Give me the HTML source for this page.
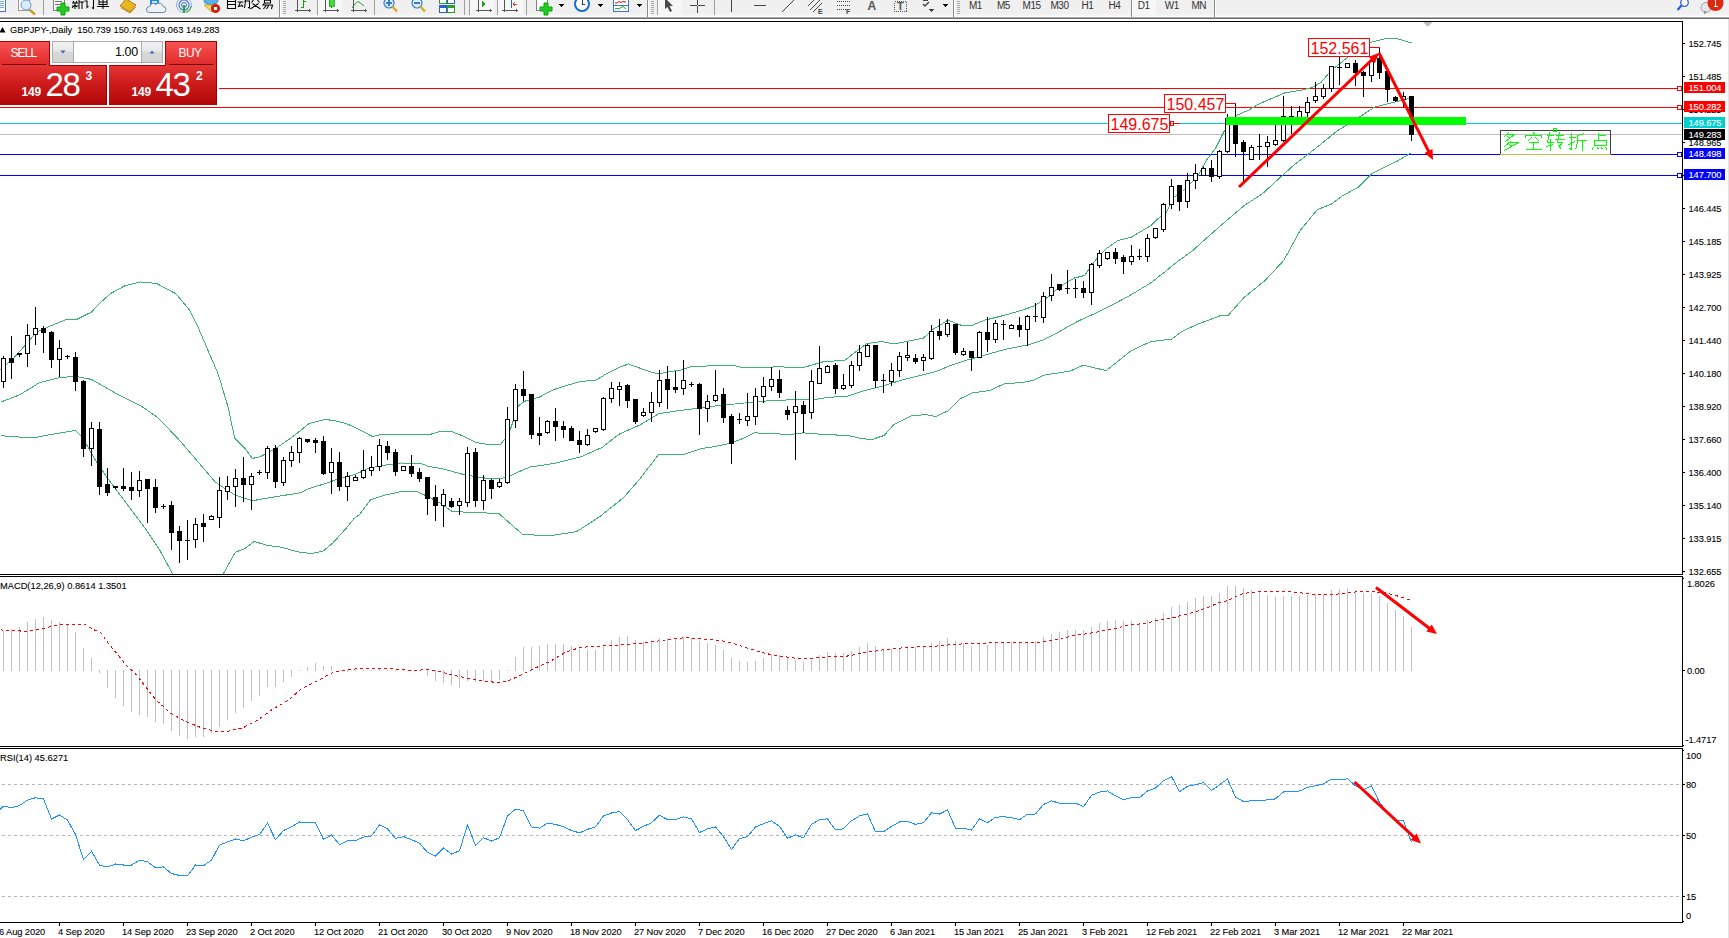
<!DOCTYPE html>
<html><head><meta charset="utf-8"><title>GBPJPY Daily</title>
<style>
html,body{margin:0;padding:0;background:#fff;}
body{width:1729px;height:938px;overflow:hidden;position:relative;font-family:"Liberation Sans",sans-serif;}
svg{position:absolute;left:0;top:0;}
.ax{font-family:"Liberation Sans",sans-serif;font-size:9.3px;letter-spacing:-0.1px;fill:#000;stroke:#000;stroke-width:0.1px;}
</style></head><body>

<svg width="1729" height="938" viewBox="0 0 1729 938" shape-rendering="crispEdges">
<defs><clipPath id="cm"><rect x="0" y="22" width="1682" height="552"/></clipPath><clipPath id="cmacd"><rect x="0" y="577" width="1682" height="169"/></clipPath><clipPath id="crsi"><rect x="0" y="749" width="1682" height="173"/></clipPath></defs>
<rect x="0" y="0" width="1729" height="16" fill="#f0f0f0"/>
<rect x="0" y="14" width="1729" height="2" fill="#f5f5f5"/>
<rect x="0" y="16" width="1729" height="1" fill="#ffffff"/>
<rect x="0" y="17" width="1729" height="1" fill="#a8a8a8"/>
<rect x="0" y="18" width="1729" height="1" fill="#6a6a6a"/>
<rect x="1728" y="19" width="1" height="919" fill="#e3e3e3"/>
<g fill="#000">
<rect x="0" y="21" width="1683" height="1"/>
<rect x="1682" y="21" width="1" height="554"/>
<rect x="0" y="574" width="1683" height="1"/>
<rect x="0" y="576" width="1683" height="1"/>
<rect x="1682" y="576" width="1" height="171"/>
<rect x="0" y="746" width="1683" height="1"/>
<rect x="0" y="748" width="1683" height="1"/>
<rect x="1682" y="748" width="1" height="175"/>
<rect x="0" y="922" width="1683" height="1"/>
</g>
<g clip-path="url(#cm)">
<rect x="0" y="107" width="1678" height="1" fill="#ff0000"/>
<rect x="0" y="88" width="1678" height="1" fill="#ff0000"/>
<rect x="0" y="123" width="1682" height="1" fill="#00ced1"/>
<rect x="0" y="134" width="1682" height="1" fill="#c0c0c0"/>
<rect x="0" y="154" width="1678" height="1" fill="#0000ff"/>
<rect x="0" y="175" width="1678" height="1" fill="#0000ff"/>
<g fill="none" stroke="#3CB371" stroke-width="1">
<polyline points="0.5,369.7 13.5,358.3 26.5,343.7 36.3,332.3 49.3,326.4 65.5,319.9 76.9,319.3 91.5,312.1 98.1,304.6 111.1,293.3 124.1,286.1 140.3,281.9 156.6,283.5 176.1,293.9 189.1,309.5 198.9,329.0 208.6,351.8 218.4,374.6 228.1,407.1 234.6,438.0 244.4,447.7 252.5,458.5 260.7,456.5 276.9,447.7 293.2,436.4 309.4,423.3 325.7,419.4 337.5,421.3 345.5,423.3 353.9,426.8 372.7,436.6 379.7,434.8 429.0,434.8 438.4,431.9 452.4,431.9 461.8,435.5 475.9,442.5 489.9,444.8 500.5,444.4 508.7,434.3 512.8,422.2 518.1,406.2 524.5,401.3 539.2,397.2 553.2,389.7 569.7,384.6 581.2,381.3 595.4,380.4 607.2,373.3 617.8,368.0 628.3,363.9 640.0,368.2 651.2,372.2 658.8,373.8 670.5,371.5 682.2,369.8 691.6,366.3 700.5,366.8 715.0,365.0 732.2,365.0 744.4,368.0 764.0,367.5 776.3,366.8 803.3,367.5 822.9,361.9 845.0,360.1 857.2,350.8 867.0,343.5 881.7,341.5 894.0,344.0 908.7,341.0 923.4,338.1 933.2,329.2 947.9,320.2 962.6,325.8 972.4,325.1 984.7,320.2 1004.3,315.3 1021.5,310.4 1033.7,306.2 1048.4,296.9 1058.2,288.3 1064.5,283.8 1074.5,278.0 1084.5,275.5 1094.5,261.3 1106.2,248.8 1117.8,240.5 1131.2,237.2 1150.5,225.8 1157.8,218.8 1166.5,212.5 1172.8,198.0 1182.5,191.5 1198.5,175.1 1206.2,160.5 1216.2,147.2 1224.5,130.5 1236.2,115.5 1247.8,110.5 1259.5,103.8 1272.8,98.0 1284.5,93.0 1301.2,90.2 1312.8,87.2 1321.2,82.2 1331.2,70.5 1347.8,57.2 1359.5,48.8 1371.2,42.2 1387.8,38.0 1399.5,39.2 1411.5,43.0"/>
<polyline points="0.5,402.2 20.0,394.7 39.5,382.7 59.0,377.8 75.3,376.2 91.5,379.4 114.3,392.5 140.3,405.5 156.6,416.8 176.1,436.4 195.6,459.1 215.1,481.9 234.6,494.9 252.5,500.7 276.9,496.5 299.5,493.0 309.4,488.4 324.5,483.8 341.2,478.0 354.5,474.7 369.5,468.0 382.8,465.5 401.2,463.0 421.2,463.5 427.8,466.3 444.5,469.2 461.8,474.1 480.5,477.7 494.6,478.8 506.3,477.7 515.7,473.0 529.8,467.1 553.2,463.6 581.4,456.6 602.5,447.2 618.9,434.3 640.0,424.9 658.8,413.7 677.5,410.8 700.5,408.0 715.0,406.0 739.5,403.5 764.0,401.1 788.6,399.9 813.1,399.9 827.8,397.4 847.4,396.2 862.1,391.3 881.7,386.4 901.3,380.2 920.9,375.3 935.7,371.7 950.4,365.5 965.1,360.6 984.7,355.2 1004.3,349.6 1028.8,344.7 1043.5,339.8 1058.2,332.4 1070.5,325.1 1081.2,319.7 1097.8,312.2 1114.5,303.8 1131.2,294.7 1150.5,283.1 1164.5,272.2 1177.2,261.8 1192.8,250.5 1203.8,240.5 1225.1,221.8 1243.8,205.8 1262.4,193.8 1278.4,179.1 1294.4,164.5 1310.4,152.5 1321.2,143.8 1337.8,130.5 1354.5,120.5 1362.8,114.7 1374.5,107.2 1387.8,103.8 1397.8,101.3 1411.5,98.0"/>
<polyline points="0.5,435.7 33.0,438.0 49.3,434.7 75.3,430.5 81.8,436.4 94.8,459.1 107.8,478.6 127.3,504.6 146.8,530.7 159.8,550.2 172.9,574.5 176.5,580.5 220.5,580.5 223.5,573.5 235.3,552.2 244.5,548.8 254.2,541.4 267.8,545.5 279.5,546.8 299.5,552.2 311.2,553.5 322.8,551.3 332.8,543.0 341.2,533.8 345.5,529.0 353.9,518.7 359.5,514.7 370.4,499.9 384.4,495.2 400.8,491.7 417.3,491.7 429.0,497.1 440.7,503.5 452.4,511.7 466.5,512.1 481.2,512.5 499.3,514.0 508.7,522.2 522.8,534.6 550.9,535.6 576.7,531.6 600.1,516.4 623.6,497.6 640.0,478.8 658.8,454.2 682.2,454.9 700.5,448.8 715.0,446.5 729.7,443.5 744.4,437.9 754.2,432.9 773.9,433.5 788.6,434.7 803.3,432.9 827.8,434.7 847.4,435.4 862.1,438.6 871.9,439.6 884.2,435.4 894.0,424.4 911.1,415.8 925.8,414.6 935.7,416.5 947.9,410.9 960.2,398.6 972.4,393.0 989.6,390.5 1004.3,383.9 1023.9,382.2 1033.7,380.2 1043.5,375.3 1058.2,372.9 1070.5,370.9 1083.4,365.2 1106.2,370.6 1131.2,350.7 1150.5,341.7 1171.8,339.1 1182.5,331.1 1198.5,323.9 1219.8,315.9 1227.8,315.9 1243.8,297.7 1265.1,280.4 1283.8,260.4 1299.8,231.1 1317.1,209.8 1331.7,203.9 1342.4,195.9 1358.4,187.1 1371.7,173.8 1385.0,167.2 1398.4,160.5 1411.5,152.5"/>
</g>
<g fill="#000">
<rect x="3" y="356" width="1" height="2"/><rect x="3" y="382" width="1" height="6"/><rect x="1" y="358" width="5" height="24"/><rect x="2" y="359" width="3" height="22" fill="#fff"/><rect x="11" y="336" width="1" height="22"/><rect x="11" y="363" width="1" height="16"/><rect x="9" y="358" width="5" height="5"/><rect x="19" y="355" width="1" height="2"/><rect x="17" y="353" width="5" height="2"/><rect x="27" y="324" width="1" height="11"/><rect x="27" y="354" width="1" height="13"/><rect x="25" y="335" width="5" height="19"/><rect x="26" y="336" width="3" height="17" fill="#fff"/><rect x="35" y="307" width="1" height="21"/><rect x="35" y="335" width="1" height="10"/><rect x="33" y="328" width="5" height="7"/><rect x="34" y="329" width="3" height="5" fill="#fff"/><rect x="43" y="326" width="1" height="2"/><rect x="43" y="333" width="1" height="20"/><rect x="41" y="328" width="5" height="5"/><rect x="51" y="331" width="1" height="1"/><rect x="51" y="360" width="1" height="8"/><rect x="49" y="332" width="5" height="28"/><rect x="59" y="340" width="1" height="8"/><rect x="59" y="360" width="1" height="17"/><rect x="57" y="348" width="5" height="12"/><rect x="58" y="349" width="3" height="10" fill="#fff"/><rect x="67" y="355" width="1" height="1"/><rect x="67" y="357" width="1" height="2"/><rect x="65" y="356" width="5" height="1"/><rect x="75" y="352" width="1" height="5"/><rect x="75" y="382" width="1" height="9"/><rect x="73" y="357" width="5" height="25"/><rect x="83" y="380" width="1" height="1"/><rect x="83" y="449" width="1" height="8"/><rect x="81" y="381" width="5" height="68"/><rect x="91" y="422" width="1" height="6"/><rect x="91" y="449" width="1" height="17"/><rect x="89" y="428" width="5" height="21"/><rect x="90" y="429" width="3" height="19" fill="#fff"/><rect x="99" y="422" width="1" height="7"/><rect x="99" y="487" width="1" height="8"/><rect x="97" y="429" width="5" height="58"/><rect x="107" y="468" width="1" height="16"/><rect x="107" y="493" width="1" height="3"/><rect x="105" y="484" width="5" height="9"/><rect x="115" y="488" width="1" height="1"/><rect x="113" y="486" width="5" height="2"/><rect x="123" y="468" width="1" height="18"/><rect x="123" y="489" width="1" height="2"/><rect x="121" y="486" width="5" height="3"/><rect x="131" y="472" width="1" height="15"/><rect x="131" y="491" width="1" height="9"/><rect x="129" y="487" width="5" height="4"/><rect x="139" y="471" width="1" height="9"/><rect x="139" y="491" width="1" height="6"/><rect x="137" y="480" width="5" height="11"/><rect x="138" y="481" width="3" height="9" fill="#fff"/><rect x="147" y="489" width="1" height="34"/><rect x="145" y="479" width="5" height="10"/><rect x="155" y="479" width="1" height="8"/><rect x="155" y="508" width="1" height="5"/><rect x="153" y="487" width="5" height="21"/><rect x="163" y="504" width="1" height="2"/><rect x="163" y="507" width="1" height="2"/><rect x="161" y="506" width="5" height="1"/><rect x="171" y="501" width="1" height="4"/><rect x="171" y="533" width="1" height="17"/><rect x="169" y="505" width="5" height="28"/><rect x="179" y="526" width="1" height="5"/><rect x="179" y="541" width="1" height="22"/><rect x="177" y="531" width="5" height="10"/><rect x="187" y="520" width="1" height="20"/><rect x="187" y="541" width="1" height="19"/><rect x="185" y="540" width="5" height="1"/><rect x="195" y="518" width="1" height="6"/><rect x="195" y="540" width="1" height="8"/><rect x="193" y="524" width="5" height="16"/><rect x="194" y="525" width="3" height="14" fill="#fff"/><rect x="203" y="514" width="1" height="9"/><rect x="203" y="527" width="1" height="15"/><rect x="201" y="523" width="5" height="4"/><rect x="211" y="515" width="1" height="1"/><rect x="209" y="516" width="5" height="4"/><rect x="210" y="517" width="3" height="2" fill="#fff"/><rect x="219" y="477" width="1" height="13"/><rect x="219" y="518" width="1" height="10"/><rect x="217" y="490" width="5" height="28"/><rect x="218" y="491" width="3" height="26" fill="#fff"/><rect x="227" y="476" width="1" height="10"/><rect x="227" y="492" width="1" height="8"/><rect x="225" y="486" width="5" height="6"/><rect x="226" y="487" width="3" height="4" fill="#fff"/><rect x="235" y="469" width="1" height="9"/><rect x="235" y="487" width="1" height="20"/><rect x="233" y="478" width="5" height="9"/><rect x="234" y="479" width="3" height="7" fill="#fff"/><rect x="243" y="457" width="1" height="21"/><rect x="243" y="485" width="1" height="17"/><rect x="241" y="478" width="5" height="7"/><rect x="251" y="473" width="1" height="3"/><rect x="251" y="485" width="1" height="25"/><rect x="249" y="476" width="5" height="9"/><rect x="250" y="477" width="3" height="7" fill="#fff"/><rect x="259" y="470" width="1" height="2"/><rect x="259" y="473" width="1" height="2"/><rect x="257" y="472" width="5" height="1"/><rect x="267" y="446" width="1" height="2"/><rect x="267" y="473" width="1" height="6"/><rect x="265" y="448" width="5" height="25"/><rect x="266" y="449" width="3" height="23" fill="#fff"/><rect x="275" y="445" width="1" height="3"/><rect x="275" y="482" width="1" height="6"/><rect x="273" y="448" width="5" height="34"/><rect x="283" y="457" width="1" height="3"/><rect x="283" y="483" width="1" height="3"/><rect x="281" y="460" width="5" height="23"/><rect x="282" y="461" width="3" height="21" fill="#fff"/><rect x="291" y="446" width="1" height="6"/><rect x="291" y="461" width="1" height="6"/><rect x="289" y="452" width="5" height="9"/><rect x="290" y="453" width="3" height="7" fill="#fff"/><rect x="299" y="437" width="1" height="1"/><rect x="299" y="453" width="1" height="10"/><rect x="297" y="438" width="5" height="15"/><rect x="298" y="439" width="3" height="13" fill="#fff"/><rect x="307" y="442" width="1" height="1"/><rect x="305" y="439" width="5" height="3"/><rect x="315" y="438" width="1" height="2"/><rect x="315" y="443" width="1" height="10"/><rect x="313" y="440" width="5" height="3"/><rect x="323" y="436" width="1" height="5"/><rect x="323" y="474" width="1" height="1"/><rect x="321" y="441" width="5" height="33"/><rect x="331" y="448" width="1" height="14"/><rect x="331" y="473" width="1" height="21"/><rect x="329" y="462" width="5" height="11"/><rect x="330" y="463" width="3" height="9" fill="#fff"/><rect x="339" y="452" width="1" height="10"/><rect x="339" y="487" width="1" height="4"/><rect x="337" y="462" width="5" height="25"/><rect x="347" y="472" width="1" height="4"/><rect x="347" y="487" width="1" height="14"/><rect x="345" y="476" width="5" height="11"/><rect x="346" y="477" width="3" height="9" fill="#fff"/><rect x="355" y="475" width="1" height="2"/><rect x="353" y="477" width="5" height="4"/><rect x="354" y="478" width="3" height="2" fill="#fff"/><rect x="363" y="450" width="1" height="20"/><rect x="363" y="478" width="1" height="1"/><rect x="361" y="470" width="5" height="8"/><rect x="362" y="471" width="3" height="6" fill="#fff"/><rect x="371" y="456" width="1" height="11"/><rect x="371" y="471" width="1" height="5"/><rect x="369" y="467" width="5" height="4"/><rect x="370" y="468" width="3" height="2" fill="#fff"/><rect x="379" y="439" width="1" height="6"/><rect x="379" y="467" width="1" height="4"/><rect x="377" y="445" width="5" height="22"/><rect x="378" y="446" width="3" height="20" fill="#fff"/><rect x="387" y="441" width="1" height="5"/><rect x="387" y="453" width="1" height="7"/><rect x="385" y="446" width="5" height="7"/><rect x="395" y="449" width="1" height="3"/><rect x="395" y="472" width="1" height="4"/><rect x="393" y="452" width="5" height="20"/><rect x="401" y="466" width="5" height="5"/><rect x="402" y="467" width="3" height="3" fill="#fff"/><rect x="411" y="455" width="1" height="11"/><rect x="411" y="474" width="1" height="3"/><rect x="409" y="466" width="5" height="8"/><rect x="419" y="468" width="1" height="4"/><rect x="419" y="479" width="1" height="3"/><rect x="417" y="472" width="5" height="7"/><rect x="427" y="499" width="1" height="16"/><rect x="425" y="477" width="5" height="22"/><rect x="435" y="485" width="1" height="12"/><rect x="435" y="506" width="1" height="15"/><rect x="433" y="497" width="5" height="9"/><rect x="443" y="489" width="1" height="5"/><rect x="443" y="506" width="1" height="21"/><rect x="441" y="494" width="5" height="12"/><rect x="442" y="495" width="3" height="10" fill="#fff"/><rect x="451" y="498" width="1" height="3"/><rect x="451" y="507" width="1" height="1"/><rect x="449" y="501" width="5" height="6"/><rect x="459" y="498" width="1" height="3"/><rect x="459" y="506" width="1" height="9"/><rect x="457" y="501" width="5" height="5"/><rect x="458" y="502" width="3" height="3" fill="#fff"/><rect x="467" y="447" width="1" height="6"/><rect x="467" y="503" width="1" height="4"/><rect x="465" y="453" width="5" height="50"/><rect x="466" y="454" width="3" height="48" fill="#fff"/><rect x="475" y="448" width="1" height="4"/><rect x="475" y="501" width="1" height="6"/><rect x="473" y="452" width="5" height="49"/><rect x="483" y="475" width="1" height="5"/><rect x="483" y="501" width="1" height="9"/><rect x="481" y="480" width="5" height="21"/><rect x="482" y="481" width="3" height="19" fill="#fff"/><rect x="491" y="479" width="1" height="1"/><rect x="491" y="489" width="1" height="10"/><rect x="489" y="480" width="5" height="9"/><rect x="499" y="479" width="1" height="3"/><rect x="499" y="487" width="1" height="1"/><rect x="497" y="482" width="5" height="5"/><rect x="498" y="483" width="3" height="3" fill="#fff"/><rect x="507" y="407" width="1" height="12"/><rect x="507" y="483" width="1" height="1"/><rect x="505" y="419" width="5" height="64"/><rect x="506" y="420" width="3" height="62" fill="#fff"/><rect x="515" y="384" width="1" height="5"/><rect x="515" y="421" width="1" height="7"/><rect x="513" y="389" width="5" height="32"/><rect x="514" y="390" width="3" height="30" fill="#fff"/><rect x="523" y="371" width="1" height="18"/><rect x="523" y="396" width="1" height="5"/><rect x="521" y="389" width="5" height="7"/><rect x="531" y="435" width="1" height="4"/><rect x="529" y="394" width="5" height="41"/><rect x="539" y="417" width="1" height="16"/><rect x="539" y="436" width="1" height="9"/><rect x="537" y="433" width="5" height="3"/><rect x="547" y="420" width="1" height="1"/><rect x="547" y="433" width="1" height="1"/><rect x="545" y="421" width="5" height="12"/><rect x="546" y="422" width="3" height="10" fill="#fff"/><rect x="555" y="408" width="1" height="13"/><rect x="555" y="427" width="1" height="14"/><rect x="553" y="421" width="5" height="6"/><rect x="563" y="421" width="1" height="5"/><rect x="563" y="430" width="1" height="8"/><rect x="561" y="426" width="5" height="4"/><rect x="571" y="426" width="1" height="2"/><rect x="569" y="428" width="5" height="13"/><rect x="579" y="431" width="1" height="9"/><rect x="579" y="445" width="1" height="8"/><rect x="577" y="440" width="5" height="5"/><rect x="587" y="429" width="1" height="6"/><rect x="587" y="445" width="1" height="1"/><rect x="585" y="435" width="5" height="10"/><rect x="586" y="436" width="3" height="8" fill="#fff"/><rect x="595" y="432" width="1" height="1"/><rect x="593" y="428" width="5" height="4"/><rect x="594" y="429" width="3" height="2" fill="#fff"/><rect x="603" y="397" width="1" height="1"/><rect x="603" y="430" width="1" height="1"/><rect x="601" y="398" width="5" height="32"/><rect x="602" y="399" width="3" height="30" fill="#fff"/><rect x="611" y="382" width="1" height="6"/><rect x="611" y="399" width="1" height="4"/><rect x="609" y="388" width="5" height="11"/><rect x="610" y="389" width="3" height="9" fill="#fff"/><rect x="619" y="382" width="1" height="4"/><rect x="619" y="390" width="1" height="16"/><rect x="617" y="386" width="5" height="4"/><rect x="618" y="387" width="3" height="2" fill="#fff"/><rect x="627" y="384" width="1" height="1"/><rect x="627" y="401" width="1" height="7"/><rect x="625" y="385" width="5" height="16"/><rect x="635" y="422" width="1" height="2"/><rect x="633" y="399" width="5" height="23"/><rect x="643" y="408" width="1" height="4"/><rect x="643" y="416" width="1" height="1"/><rect x="641" y="412" width="5" height="4"/><rect x="642" y="413" width="3" height="2" fill="#fff"/><rect x="651" y="392" width="1" height="10"/><rect x="651" y="413" width="1" height="9"/><rect x="649" y="402" width="5" height="11"/><rect x="650" y="403" width="3" height="9" fill="#fff"/><rect x="659" y="370" width="1" height="10"/><rect x="659" y="403" width="1" height="4"/><rect x="657" y="380" width="5" height="23"/><rect x="658" y="381" width="3" height="21" fill="#fff"/><rect x="667" y="366" width="1" height="13"/><rect x="667" y="390" width="1" height="19"/><rect x="665" y="379" width="5" height="11"/><rect x="675" y="371" width="1" height="16"/><rect x="675" y="390" width="1" height="3"/><rect x="673" y="387" width="5" height="3"/><rect x="683" y="360" width="1" height="20"/><rect x="683" y="389" width="1" height="6"/><rect x="681" y="380" width="5" height="9"/><rect x="682" y="381" width="3" height="7" fill="#fff"/><rect x="691" y="382" width="1" height="2"/><rect x="691" y="385" width="1" height="2"/><rect x="689" y="384" width="5" height="1"/><rect x="699" y="383" width="1" height="1"/><rect x="699" y="409" width="1" height="26"/><rect x="697" y="384" width="5" height="25"/><rect x="707" y="395" width="1" height="6"/><rect x="707" y="409" width="1" height="13"/><rect x="705" y="401" width="5" height="8"/><rect x="706" y="402" width="3" height="6" fill="#fff"/><rect x="715" y="370" width="1" height="25"/><rect x="715" y="401" width="1" height="1"/><rect x="713" y="395" width="5" height="6"/><rect x="714" y="396" width="3" height="4" fill="#fff"/><rect x="723" y="388" width="1" height="6"/><rect x="723" y="418" width="1" height="5"/><rect x="721" y="394" width="5" height="24"/><rect x="731" y="414" width="1" height="2"/><rect x="731" y="444" width="1" height="20"/><rect x="729" y="416" width="5" height="28"/><rect x="739" y="413" width="1" height="6"/><rect x="739" y="420" width="1" height="4"/><rect x="737" y="419" width="5" height="1"/><rect x="747" y="393" width="1" height="23"/><rect x="747" y="421" width="1" height="5"/><rect x="745" y="416" width="5" height="5"/><rect x="746" y="417" width="3" height="3" fill="#fff"/><rect x="755" y="388" width="1" height="8"/><rect x="755" y="417" width="1" height="8"/><rect x="753" y="396" width="5" height="21"/><rect x="754" y="397" width="3" height="19" fill="#fff"/><rect x="763" y="377" width="1" height="9"/><rect x="763" y="397" width="1" height="6"/><rect x="761" y="386" width="5" height="11"/><rect x="762" y="387" width="3" height="9" fill="#fff"/><rect x="771" y="367" width="1" height="12"/><rect x="771" y="387" width="1" height="4"/><rect x="769" y="379" width="5" height="8"/><rect x="770" y="380" width="3" height="6" fill="#fff"/><rect x="779" y="370" width="1" height="9"/><rect x="779" y="393" width="1" height="5"/><rect x="777" y="379" width="5" height="14"/><rect x="787" y="406" width="1" height="4"/><rect x="787" y="415" width="1" height="5"/><rect x="785" y="410" width="5" height="5"/><rect x="795" y="391" width="1" height="15"/><rect x="795" y="413" width="1" height="47"/><rect x="793" y="406" width="5" height="7"/><rect x="794" y="407" width="3" height="5" fill="#fff"/><rect x="803" y="401" width="1" height="4"/><rect x="803" y="414" width="1" height="19"/><rect x="801" y="405" width="5" height="9"/><rect x="811" y="370" width="1" height="11"/><rect x="811" y="413" width="1" height="6"/><rect x="809" y="381" width="5" height="32"/><rect x="810" y="382" width="3" height="30" fill="#fff"/><rect x="819" y="346" width="1" height="22"/><rect x="817" y="368" width="5" height="16"/><rect x="818" y="369" width="3" height="14" fill="#fff"/><rect x="827" y="365" width="1" height="1"/><rect x="825" y="366" width="5" height="7"/><rect x="826" y="367" width="3" height="5" fill="#fff"/><rect x="835" y="363" width="1" height="2"/><rect x="835" y="389" width="1" height="5"/><rect x="833" y="365" width="5" height="24"/><rect x="843" y="374" width="1" height="11"/><rect x="843" y="389" width="1" height="1"/><rect x="841" y="385" width="5" height="4"/><rect x="842" y="386" width="3" height="2" fill="#fff"/><rect x="851" y="361" width="1" height="4"/><rect x="851" y="386" width="1" height="2"/><rect x="849" y="365" width="5" height="21"/><rect x="850" y="366" width="3" height="19" fill="#fff"/><rect x="859" y="345" width="1" height="7"/><rect x="859" y="366" width="1" height="5"/><rect x="857" y="352" width="5" height="14"/><rect x="858" y="353" width="3" height="12" fill="#fff"/><rect x="867" y="344" width="1" height="1"/><rect x="865" y="345" width="5" height="12"/><rect x="866" y="346" width="3" height="10" fill="#fff"/><rect x="875" y="381" width="1" height="7"/><rect x="873" y="345" width="5" height="36"/><rect x="883" y="374" width="1" height="6"/><rect x="883" y="381" width="1" height="12"/><rect x="881" y="380" width="5" height="1"/><rect x="891" y="363" width="1" height="7"/><rect x="891" y="382" width="1" height="4"/><rect x="889" y="370" width="5" height="12"/><rect x="890" y="371" width="3" height="10" fill="#fff"/><rect x="899" y="352" width="1" height="4"/><rect x="899" y="371" width="1" height="6"/><rect x="897" y="356" width="5" height="15"/><rect x="898" y="357" width="3" height="13" fill="#fff"/><rect x="907" y="342" width="1" height="13"/><rect x="907" y="358" width="1" height="3"/><rect x="905" y="355" width="5" height="3"/><rect x="906" y="356" width="3" height="1" fill="#fff"/><rect x="915" y="354" width="1" height="4"/><rect x="915" y="362" width="1" height="2"/><rect x="913" y="358" width="5" height="4"/><rect x="923" y="354" width="1" height="3"/><rect x="923" y="361" width="1" height="10"/><rect x="921" y="357" width="5" height="4"/><rect x="922" y="358" width="3" height="2" fill="#fff"/><rect x="931" y="325" width="1" height="6"/><rect x="931" y="359" width="1" height="1"/><rect x="929" y="331" width="5" height="28"/><rect x="930" y="332" width="3" height="26" fill="#fff"/><rect x="939" y="319" width="1" height="12"/><rect x="939" y="336" width="1" height="4"/><rect x="937" y="331" width="5" height="5"/><rect x="947" y="319" width="1" height="4"/><rect x="947" y="335" width="1" height="2"/><rect x="945" y="323" width="5" height="12"/><rect x="946" y="324" width="3" height="10" fill="#fff"/><rect x="955" y="353" width="1" height="2"/><rect x="953" y="324" width="5" height="29"/><rect x="963" y="348" width="1" height="3"/><rect x="963" y="355" width="1" height="1"/><rect x="961" y="351" width="5" height="4"/><rect x="962" y="352" width="3" height="2" fill="#fff"/><rect x="971" y="358" width="1" height="13"/><rect x="969" y="351" width="5" height="7"/><rect x="979" y="331" width="1" height="1"/><rect x="977" y="332" width="5" height="26"/><rect x="978" y="333" width="3" height="24" fill="#fff"/><rect x="987" y="317" width="1" height="15"/><rect x="987" y="340" width="1" height="12"/><rect x="985" y="332" width="5" height="8"/><rect x="995" y="320" width="1" height="3"/><rect x="995" y="340" width="1" height="3"/><rect x="993" y="323" width="5" height="17"/><rect x="994" y="324" width="3" height="15" fill="#fff"/><rect x="1003" y="320" width="1" height="4"/><rect x="1003" y="325" width="1" height="15"/><rect x="1001" y="324" width="5" height="1"/><rect x="1011" y="324" width="1" height="1"/><rect x="1009" y="325" width="5" height="4"/><rect x="1010" y="326" width="3" height="2" fill="#fff"/><rect x="1019" y="317" width="1" height="8"/><rect x="1019" y="330" width="1" height="7"/><rect x="1017" y="325" width="5" height="5"/><rect x="1027" y="315" width="1" height="1"/><rect x="1027" y="330" width="1" height="16"/><rect x="1025" y="316" width="5" height="14"/><rect x="1026" y="317" width="3" height="12" fill="#fff"/><rect x="1035" y="303" width="1" height="13"/><rect x="1035" y="317" width="1" height="5"/><rect x="1033" y="316" width="5" height="1"/><rect x="1043" y="292" width="1" height="4"/><rect x="1043" y="318" width="1" height="5"/><rect x="1041" y="296" width="5" height="22"/><rect x="1042" y="297" width="3" height="20" fill="#fff"/><rect x="1051" y="274" width="1" height="13"/><rect x="1051" y="296" width="1" height="5"/><rect x="1049" y="287" width="5" height="9"/><rect x="1050" y="288" width="3" height="7" fill="#fff"/><rect x="1059" y="290" width="1" height="1"/><rect x="1057" y="284" width="5" height="6"/><rect x="1067" y="270" width="1" height="18"/><rect x="1067" y="289" width="1" height="5"/><rect x="1065" y="288" width="5" height="1"/><rect x="1075" y="279" width="1" height="9"/><rect x="1075" y="289" width="1" height="9"/><rect x="1073" y="288" width="5" height="1"/><rect x="1083" y="281" width="1" height="7"/><rect x="1083" y="293" width="1" height="5"/><rect x="1081" y="288" width="5" height="5"/><rect x="1091" y="263" width="1" height="1"/><rect x="1091" y="293" width="1" height="12"/><rect x="1089" y="264" width="5" height="29"/><rect x="1090" y="265" width="3" height="27" fill="#fff"/><rect x="1099" y="250" width="1" height="3"/><rect x="1099" y="266" width="1" height="2"/><rect x="1097" y="253" width="5" height="13"/><rect x="1098" y="254" width="3" height="11" fill="#fff"/><rect x="1107" y="259" width="1" height="1"/><rect x="1105" y="252" width="5" height="7"/><rect x="1106" y="253" width="3" height="5" fill="#fff"/><rect x="1115" y="248" width="1" height="4"/><rect x="1115" y="259" width="1" height="5"/><rect x="1113" y="252" width="5" height="7"/><rect x="1123" y="255" width="1" height="2"/><rect x="1123" y="262" width="1" height="12"/><rect x="1121" y="257" width="5" height="5"/><rect x="1131" y="245" width="1" height="11"/><rect x="1131" y="262" width="1" height="3"/><rect x="1129" y="256" width="5" height="6"/><rect x="1130" y="257" width="3" height="4" fill="#fff"/><rect x="1139" y="249" width="1" height="7"/><rect x="1139" y="257" width="1" height="3"/><rect x="1137" y="256" width="5" height="1"/><rect x="1147" y="234" width="1" height="4"/><rect x="1147" y="257" width="1" height="5"/><rect x="1145" y="238" width="5" height="19"/><rect x="1146" y="239" width="3" height="17" fill="#fff"/><rect x="1155" y="238" width="1" height="1"/><rect x="1153" y="228" width="5" height="10"/><rect x="1154" y="229" width="3" height="8" fill="#fff"/><rect x="1163" y="203" width="1" height="1"/><rect x="1163" y="230" width="1" height="2"/><rect x="1161" y="204" width="5" height="26"/><rect x="1162" y="205" width="3" height="24" fill="#fff"/><rect x="1171" y="179" width="1" height="7"/><rect x="1171" y="205" width="1" height="4"/><rect x="1169" y="186" width="5" height="19"/><rect x="1170" y="187" width="3" height="17" fill="#fff"/><rect x="1179" y="202" width="1" height="9"/><rect x="1177" y="185" width="5" height="17"/><rect x="1187" y="173" width="1" height="7"/><rect x="1187" y="202" width="1" height="6"/><rect x="1185" y="180" width="5" height="22"/><rect x="1186" y="181" width="3" height="20" fill="#fff"/><rect x="1195" y="164" width="1" height="9"/><rect x="1195" y="181" width="1" height="8"/><rect x="1193" y="173" width="5" height="8"/><rect x="1194" y="174" width="3" height="6" fill="#fff"/><rect x="1203" y="167" width="1" height="1"/><rect x="1201" y="168" width="5" height="8"/><rect x="1202" y="169" width="3" height="6" fill="#fff"/><rect x="1211" y="160" width="1" height="8"/><rect x="1211" y="177" width="1" height="5"/><rect x="1209" y="168" width="5" height="9"/><rect x="1219" y="150" width="1" height="1"/><rect x="1219" y="177" width="1" height="2"/><rect x="1217" y="151" width="5" height="26"/><rect x="1218" y="152" width="3" height="24" fill="#fff"/><rect x="1227" y="114" width="1" height="4"/><rect x="1227" y="152" width="1" height="1"/><rect x="1225" y="118" width="5" height="34"/><rect x="1226" y="119" width="3" height="32" fill="#fff"/><rect x="1235" y="104" width="1" height="18"/><rect x="1235" y="144" width="1" height="13"/><rect x="1233" y="122" width="5" height="22"/><rect x="1243" y="140" width="1" height="2"/><rect x="1243" y="152" width="1" height="29"/><rect x="1241" y="142" width="5" height="10"/><rect x="1251" y="145" width="1" height="2"/><rect x="1249" y="147" width="5" height="13"/><rect x="1250" y="148" width="3" height="11" fill="#fff"/><rect x="1259" y="134" width="1" height="12"/><rect x="1259" y="147" width="1" height="13"/><rect x="1257" y="146" width="5" height="1"/><rect x="1267" y="136" width="1" height="6"/><rect x="1267" y="147" width="1" height="20"/><rect x="1265" y="142" width="5" height="5"/><rect x="1266" y="143" width="3" height="3" fill="#fff"/><rect x="1275" y="125" width="1" height="15"/><rect x="1275" y="145" width="1" height="1"/><rect x="1273" y="140" width="5" height="5"/><rect x="1274" y="141" width="3" height="3" fill="#fff"/><rect x="1283" y="96" width="1" height="20"/><rect x="1283" y="141" width="1" height="1"/><rect x="1281" y="116" width="5" height="25"/><rect x="1282" y="117" width="3" height="23" fill="#fff"/><rect x="1291" y="106" width="1" height="10"/><rect x="1291" y="120" width="1" height="14"/><rect x="1289" y="116" width="5" height="4"/><rect x="1290" y="117" width="3" height="2" fill="#fff"/><rect x="1299" y="106" width="1" height="5"/><rect x="1299" y="119" width="1" height="2"/><rect x="1297" y="111" width="5" height="8"/><rect x="1298" y="112" width="3" height="6" fill="#fff"/><rect x="1307" y="97" width="1" height="5"/><rect x="1307" y="113" width="1" height="5"/><rect x="1305" y="102" width="5" height="11"/><rect x="1306" y="103" width="3" height="9" fill="#fff"/><rect x="1315" y="82" width="1" height="14"/><rect x="1315" y="101" width="1" height="2"/><rect x="1313" y="96" width="5" height="5"/><rect x="1314" y="97" width="3" height="3" fill="#fff"/><rect x="1323" y="84" width="1" height="4"/><rect x="1323" y="97" width="1" height="2"/><rect x="1321" y="88" width="5" height="9"/><rect x="1322" y="89" width="3" height="7" fill="#fff"/><rect x="1331" y="89" width="1" height="3"/><rect x="1329" y="66" width="5" height="23"/><rect x="1330" y="67" width="3" height="21" fill="#fff"/><rect x="1339" y="57" width="1" height="10"/><rect x="1339" y="68" width="1" height="17"/><rect x="1337" y="67" width="5" height="1"/><rect x="1345" y="63" width="5" height="5"/><rect x="1346" y="64" width="3" height="3" fill="#fff"/><rect x="1355" y="60" width="1" height="3"/><rect x="1355" y="73" width="1" height="13"/><rect x="1353" y="63" width="5" height="10"/><rect x="1363" y="71" width="1" height="1"/><rect x="1363" y="76" width="1" height="21"/><rect x="1361" y="72" width="5" height="4"/><rect x="1371" y="57" width="1" height="4"/><rect x="1371" y="76" width="1" height="6"/><rect x="1369" y="61" width="5" height="15"/><rect x="1370" y="62" width="3" height="13" fill="#fff"/><rect x="1379" y="48" width="1" height="10"/><rect x="1379" y="73" width="1" height="6"/><rect x="1377" y="58" width="5" height="15"/><rect x="1387" y="90" width="1" height="12"/><rect x="1385" y="71" width="5" height="19"/><rect x="1395" y="96" width="1" height="1"/><rect x="1395" y="101" width="1" height="1"/><rect x="1393" y="97" width="5" height="4"/><rect x="1403" y="92" width="1" height="4"/><rect x="1403" y="100" width="1" height="8"/><rect x="1401" y="96" width="5" height="4"/><rect x="1402" y="97" width="3" height="2" fill="#fff"/><rect x="1411" y="135" width="1" height="6"/><rect x="1409" y="96" width="5" height="39"/>
</g>
</g>
<g fill="#c0c0c0" clip-path="url(#cmacd)">
<rect x="3" y="631" width="1" height="40"/>
<rect x="11" y="629" width="1" height="42"/>
<rect x="19" y="627" width="1" height="44"/>
<rect x="27" y="622" width="1" height="49"/>
<rect x="35" y="619" width="1" height="52"/>
<rect x="43" y="617" width="1" height="54"/>
<rect x="51" y="620" width="1" height="51"/>
<rect x="59" y="622" width="1" height="49"/>
<rect x="67" y="625" width="1" height="46"/>
<rect x="75" y="632" width="1" height="39"/>
<rect x="83" y="648" width="1" height="23"/>
<rect x="91" y="658" width="1" height="13"/>
<rect x="99" y="670" width="1" height="3"/>
<rect x="107" y="670" width="1" height="18"/>
<rect x="115" y="670" width="1" height="28"/>
<rect x="123" y="670" width="1" height="36"/>
<rect x="131" y="670" width="1" height="42"/>
<rect x="139" y="670" width="1" height="45"/>
<rect x="147" y="670" width="1" height="47"/>
<rect x="155" y="670" width="1" height="52"/>
<rect x="163" y="670" width="1" height="54"/>
<rect x="171" y="670" width="1" height="61"/>
<rect x="179" y="670" width="1" height="66"/>
<rect x="187" y="670" width="1" height="69"/>
<rect x="195" y="670" width="1" height="67"/>
<rect x="203" y="670" width="1" height="67"/>
<rect x="211" y="670" width="1" height="63"/>
<rect x="219" y="670" width="1" height="57"/>
<rect x="227" y="670" width="1" height="50"/>
<rect x="235" y="670" width="1" height="43"/>
<rect x="243" y="670" width="1" height="38"/>
<rect x="251" y="670" width="1" height="31"/>
<rect x="259" y="670" width="1" height="26"/>
<rect x="267" y="670" width="1" height="17"/>
<rect x="275" y="670" width="1" height="17"/>
<rect x="283" y="670" width="1" height="12"/>
<rect x="291" y="670" width="1" height="7"/>
<rect x="299" y="670" width="1" height="1"/>
<rect x="307" y="667" width="1" height="4"/>
<rect x="315" y="663" width="1" height="8"/>
<rect x="323" y="666" width="1" height="5"/>
<rect x="331" y="666" width="1" height="5"/>
<rect x="339" y="670" width="1" height="1"/>
<rect x="347" y="670" width="1" height="2"/>
<rect x="355" y="670" width="1" height="1"/>
<rect x="363" y="670" width="1" height="1"/>
<rect x="371" y="670" width="1" height="1"/>
<rect x="379" y="669" width="1" height="2"/>
<rect x="387" y="670" width="1" height="1"/>
<rect x="395" y="670" width="1" height="1"/>
<rect x="403" y="670" width="1" height="1"/>
<rect x="411" y="670" width="1" height="1"/>
<rect x="419" y="670" width="1" height="1"/>
<rect x="427" y="670" width="1" height="6"/>
<rect x="435" y="670" width="1" height="11"/>
<rect x="443" y="670" width="1" height="13"/>
<rect x="451" y="670" width="1" height="15"/>
<rect x="459" y="670" width="1" height="18"/>
<rect x="467" y="670" width="1" height="11"/>
<rect x="475" y="670" width="1" height="12"/>
<rect x="483" y="670" width="1" height="11"/>
<rect x="491" y="670" width="1" height="12"/>
<rect x="499" y="670" width="1" height="10"/>
<rect x="507" y="670" width="1" height="1"/>
<rect x="515" y="657" width="1" height="14"/>
<rect x="523" y="647" width="1" height="24"/>
<rect x="531" y="647" width="1" height="24"/>
<rect x="539" y="646" width="1" height="25"/>
<rect x="547" y="644" width="1" height="27"/>
<rect x="555" y="644" width="1" height="27"/>
<rect x="563" y="644" width="1" height="27"/>
<rect x="571" y="646" width="1" height="25"/>
<rect x="579" y="649" width="1" height="22"/>
<rect x="587" y="650" width="1" height="21"/>
<rect x="595" y="650" width="1" height="21"/>
<rect x="603" y="645" width="1" height="26"/>
<rect x="611" y="640" width="1" height="31"/>
<rect x="619" y="637" width="1" height="34"/>
<rect x="627" y="636" width="1" height="35"/>
<rect x="635" y="640" width="1" height="31"/>
<rect x="643" y="642" width="1" height="29"/>
<rect x="651" y="642" width="1" height="29"/>
<rect x="659" y="638" width="1" height="33"/>
<rect x="667" y="638" width="1" height="33"/>
<rect x="675" y="638" width="1" height="33"/>
<rect x="683" y="637" width="1" height="34"/>
<rect x="691" y="638" width="1" height="33"/>
<rect x="699" y="641" width="1" height="30"/>
<rect x="707" y="643" width="1" height="28"/>
<rect x="715" y="645" width="1" height="26"/>
<rect x="723" y="650" width="1" height="21"/>
<rect x="731" y="658" width="1" height="13"/>
<rect x="739" y="661" width="1" height="10"/>
<rect x="747" y="662" width="1" height="9"/>
<rect x="755" y="661" width="1" height="10"/>
<rect x="763" y="658" width="1" height="13"/>
<rect x="771" y="655" width="1" height="16"/>
<rect x="779" y="655" width="1" height="16"/>
<rect x="787" y="658" width="1" height="13"/>
<rect x="795" y="660" width="1" height="11"/>
<rect x="803" y="661" width="1" height="10"/>
<rect x="811" y="660" width="1" height="11"/>
<rect x="819" y="655" width="1" height="16"/>
<rect x="827" y="652" width="1" height="19"/>
<rect x="835" y="653" width="1" height="18"/>
<rect x="843" y="653" width="1" height="18"/>
<rect x="851" y="651" width="1" height="20"/>
<rect x="859" y="647" width="1" height="24"/>
<rect x="867" y="643" width="1" height="28"/>
<rect x="875" y="646" width="1" height="25"/>
<rect x="883" y="649" width="1" height="22"/>
<rect x="891" y="649" width="1" height="22"/>
<rect x="899" y="648" width="1" height="23"/>
<rect x="907" y="646" width="1" height="25"/>
<rect x="915" y="647" width="1" height="24"/>
<rect x="923" y="646" width="1" height="25"/>
<rect x="931" y="643" width="1" height="28"/>
<rect x="939" y="641" width="1" height="30"/>
<rect x="947" y="638" width="1" height="33"/>
<rect x="955" y="641" width="1" height="30"/>
<rect x="963" y="643" width="1" height="28"/>
<rect x="971" y="646" width="1" height="25"/>
<rect x="979" y="644" width="1" height="27"/>
<rect x="987" y="645" width="1" height="26"/>
<rect x="995" y="643" width="1" height="28"/>
<rect x="1003" y="642" width="1" height="29"/>
<rect x="1011" y="642" width="1" height="29"/>
<rect x="1019" y="643" width="1" height="28"/>
<rect x="1027" y="642" width="1" height="29"/>
<rect x="1035" y="641" width="1" height="30"/>
<rect x="1043" y="637" width="1" height="34"/>
<rect x="1051" y="634" width="1" height="37"/>
<rect x="1059" y="632" width="1" height="39"/>
<rect x="1067" y="630" width="1" height="41"/>
<rect x="1075" y="630" width="1" height="41"/>
<rect x="1083" y="630" width="1" height="41"/>
<rect x="1091" y="627" width="1" height="44"/>
<rect x="1099" y="623" width="1" height="48"/>
<rect x="1107" y="621" width="1" height="50"/>
<rect x="1115" y="620" width="1" height="51"/>
<rect x="1123" y="621" width="1" height="50"/>
<rect x="1131" y="621" width="1" height="50"/>
<rect x="1139" y="623" width="1" height="48"/>
<rect x="1147" y="620" width="1" height="51"/>
<rect x="1155" y="618" width="1" height="53"/>
<rect x="1163" y="613" width="1" height="58"/>
<rect x="1171" y="607" width="1" height="64"/>
<rect x="1179" y="605" width="1" height="66"/>
<rect x="1187" y="602" width="1" height="69"/>
<rect x="1195" y="598" width="1" height="73"/>
<rect x="1203" y="596" width="1" height="75"/>
<rect x="1211" y="596" width="1" height="75"/>
<rect x="1219" y="593" width="1" height="78"/>
<rect x="1227" y="586" width="1" height="85"/>
<rect x="1235" y="586" width="1" height="85"/>
<rect x="1243" y="588" width="1" height="83"/>
<rect x="1251" y="590" width="1" height="81"/>
<rect x="1259" y="592" width="1" height="79"/>
<rect x="1267" y="595" width="1" height="76"/>
<rect x="1275" y="597" width="1" height="74"/>
<rect x="1283" y="596" width="1" height="75"/>
<rect x="1291" y="596" width="1" height="75"/>
<rect x="1299" y="596" width="1" height="75"/>
<rect x="1307" y="595" width="1" height="76"/>
<rect x="1315" y="594" width="1" height="77"/>
<rect x="1323" y="594" width="1" height="77"/>
<rect x="1331" y="590" width="1" height="81"/>
<rect x="1339" y="589" width="1" height="82"/>
<rect x="1347" y="588" width="1" height="83"/>
<rect x="1355" y="590" width="1" height="81"/>
<rect x="1363" y="593" width="1" height="78"/>
<rect x="1371" y="593" width="1" height="78"/>
<rect x="1379" y="596" width="1" height="75"/>
<rect x="1387" y="603" width="1" height="68"/>
<rect x="1395" y="610" width="1" height="61"/>
<rect x="1403" y="616" width="1" height="55"/>
<rect x="1411" y="627" width="1" height="44"/>
</g>
<polyline points="0.5,629.9 20.5,631.0 28.5,631.0 34.5,630.0 40.5,629.0 45.5,628.0 52.5,626.0 58.5,625.0 63.5,624.5 76.5,624.0 85.5,624.5 92.5,629.2 100.5,632.5 109.5,644.9 118.5,655.5 126.5,665.5 134.5,672.5 141.5,681.4 155.5,699.5 170.5,713.0 185.5,721.5 199.5,727.0 214.5,731.2 228.5,731.2 243.5,727.5 257.5,720.2 272.5,709.3 287.5,700.8 301.5,688.7 316.5,681.4 330.5,673.5 340.5,670.5 355.5,669.0 389.5,668.7 410.5,670.5 427.5,669.7 439.5,671.7 459.5,676.5 478.5,680.6 497.5,682.5 507.5,681.4 522.5,674.1 536.5,667.5 551.5,660.7 565.5,652.2 580.5,647.4 595.5,646.4 619.5,644.9 643.5,643.0 667.5,639.6 684.5,637.7 701.5,638.9 721.5,640.5 735.5,644.2 750.5,649.1 765.5,653.5 779.5,655.9 799.5,658.8 813.5,658.3 830.5,656.6 844.5,656.6 864.5,652.7 883.5,649.8 907.5,647.4 932.5,646.4 956.5,644.2 980.5,643.2 1005.5,642.5 1039.5,642.5 1053.5,640.1 1073.5,635.7 1092.5,632.8 1112.5,629.2 1126.5,625.5 1146.5,623.1 1161.5,619.4 1175.5,617.0 1194.5,612.1 1200.5,610.1 1210.5,606.3 1219.5,602.3 1228.5,600.5 1235.5,596.7 1243.5,593.2 1252.5,592.7 1261.5,591.5 1269.5,591.0 1287.5,591.0 1295.5,592.4 1308.5,593.6 1321.5,595.0 1332.5,594.8 1347.5,592.7 1356.5,591.9 1374.5,591.9 1384.5,592.7 1396.5,595.7 1405.5,598.3 1411.5,600.9" fill="none" stroke="#ff0000" stroke-width="1" stroke-dasharray="3 3" clip-path="url(#cmacd)"/>
<g fill="#c0c0c0">
<path d="M2 784.5H1680" stroke="#b4b4b4" stroke-width="1" stroke-dasharray="3 3"/>
<path d="M2 835.5H1680" stroke="#b4b4b4" stroke-width="1" stroke-dasharray="3 3"/>
<path d="M2 896.5H1680" stroke="#b4b4b4" stroke-width="1" stroke-dasharray="3 3"/>
</g>
<polyline points="-4.5,814.0 3.5,806.2 11.5,807.7 19.5,805.5 27.5,800.2 35.5,797.7 43.5,799.0 51.5,819.0 59.5,815.0 67.5,820.0 75.5,834.5 83.5,859.7 91.5,851.2 99.5,865.2 107.5,866.9 115.5,864.0 123.5,865.0 131.5,865.0 139.5,860.1 147.5,861.6 155.5,867.7 163.5,866.9 171.5,873.5 179.5,875.5 187.5,875.9 195.5,865.0 203.5,865.7 211.5,860.1 219.5,845.1 227.5,841.9 235.5,839.0 243.5,840.7 251.5,837.3 259.5,834.6 267.5,823.2 275.5,839.7 283.5,830.5 291.5,826.9 299.5,822.0 307.5,822.7 315.5,822.7 323.5,839.5 331.5,834.9 339.5,844.6 347.5,840.7 355.5,840.7 363.5,837.1 371.5,835.9 379.5,824.9 387.5,828.8 395.5,838.3 403.5,836.6 411.5,839.7 419.5,843.1 427.5,852.4 435.5,856.0 443.5,848.0 451.5,854.1 459.5,850.7 467.5,824.9 475.5,845.6 483.5,837.8 491.5,841.0 499.5,837.8 507.5,815.9 515.5,809.1 523.5,810.6 531.5,826.9 539.5,828.1 547.5,823.2 555.5,824.4 563.5,826.9 571.5,830.5 579.5,832.9 587.5,829.3 595.5,826.9 603.5,815.9 611.5,813.0 619.5,811.6 627.5,819.6 635.5,830.5 643.5,826.4 651.5,822.7 659.5,815.2 667.5,819.6 675.5,819.6 683.5,816.9 691.5,818.9 699.5,832.5 707.5,828.8 715.5,826.9 723.5,836.6 731.5,849.5 739.5,838.5 747.5,836.6 755.5,826.9 763.5,823.7 771.5,820.8 779.5,826.4 787.5,838.3 795.5,834.9 803.5,837.8 811.5,824.4 819.5,819.6 827.5,818.9 835.5,830.0 843.5,828.8 851.5,820.8 859.5,815.9 867.5,814.0 875.5,831.7 883.5,831.7 891.5,826.4 899.5,822.0 907.5,821.3 915.5,824.4 923.5,822.7 931.5,812.8 939.5,814.0 947.5,809.9 955.5,828.1 963.5,828.1 971.5,830.0 979.5,818.9 987.5,822.7 995.5,817.2 1003.5,816.7 1011.5,817.6 1019.5,819.6 1027.5,814.2 1035.5,814.0 1043.5,804.5 1051.5,800.9 1059.5,803.1 1067.5,803.1 1075.5,803.1 1083.5,806.7 1091.5,795.3 1099.5,792.1 1107.5,790.9 1115.5,795.8 1123.5,799.7 1131.5,797.7 1139.5,797.7 1147.5,790.9 1155.5,788.0 1163.5,780.7 1171.5,776.6 1179.5,791.6 1187.5,786.3 1195.5,784.8 1203.5,782.7 1211.5,790.5 1219.5,784.8 1227.5,779.0 1235.5,797.0 1243.5,801.5 1251.5,800.8 1259.5,800.8 1267.5,799.8 1275.5,798.9 1283.5,791.9 1291.5,791.9 1299.5,791.0 1307.5,787.3 1315.5,785.8 1323.5,783.9 1331.5,779.1 1339.5,780.0 1347.5,778.7 1355.5,785.8 1363.5,789.6 1371.5,785.8 1379.5,802.5 1387.5,812.5 1395.5,820.9 1403.5,820.9 1411.5,842.5" fill="none" stroke="#1e90ff" stroke-width="1" clip-path="url(#crsi)"/>
<g clip-path="url(#cm)">
<rect x="1226" y="117" width="240" height="8" fill="#00ff00"/>
<rect x="1308.5" y="38.5" width="61" height="18" fill="#fff" stroke="#ff0000" stroke-width="1"/>
<text x="1310.5" y="53.6" font-size="16" fill="#ff0000" shape-rendering="auto">152.561</text>
<rect x="1370" y="47" width="10" height="1" fill="#ff0000"/>
<rect x="1164.5" y="94.5" width="61" height="18" fill="#fff" stroke="#ff0000" stroke-width="1"/>
<text x="1166.5" y="109.6" font-size="16" fill="#ff0000" shape-rendering="auto">150.457</text>
<rect x="1226" y="103" width="10" height="1" fill="#ff0000"/>
<rect x="1108.5" y="114.5" width="61" height="18" fill="#fff" stroke="#ff0000" stroke-width="1"/>
<text x="1110.5" y="129.6" font-size="16" fill="#ff0000" shape-rendering="auto">149.675</text>
<rect x="1170" y="121" width="3" height="4" fill="none" stroke="#ff0000"/>
<rect x="1173" y="123" width="7" height="1" fill="#ff0000"/>
<rect x="1500.5" y="130.5" width="110" height="24" fill="#fff" stroke="#404040" stroke-width="1"/>
<rect x="1501" y="134" width="109" height="1" fill="#c0c0c0"/>
<rect x="1500" y="154" width="111" height="1" fill="#c8bc48"/>
<rect x="1553" y="128" width="3" height="3" fill="none" stroke="#00ff00" stroke-width="1"/>
</g>
<path d="M6 0L1 5 M4 2H12L3 9 M5 4L8 6 M9 8L2 14 M6 10H16L2 18 M7 12L10 14" transform="translate(1502.5,132.5) scale(1.0)" fill="none" stroke="#00ff00" stroke-width="1.00" shape-rendering="crispEdges"/>
<path d="M9 0L10 2 M1 5V3H17V5 M7 5L3 9 M11 5L15 9 M4 10H14 M9 10V17 M1 17H17" transform="translate(1524.5,132.5) scale(1.0)" fill="none" stroke="#00ff00" stroke-width="1.00" shape-rendering="crispEdges"/>
<path d="M0 3H7 M3 0L1 10H7 M4 6V18 M0 14L7 12 M9 3H17 M8 7H18 M13 0L11 10H16L12 15 M12 13L15 17" transform="translate(1546.5,132.5) scale(1.0)" fill="none" stroke="#00ff00" stroke-width="1.00" shape-rendering="crispEdges"/>
<path d="M0 5H7 M3 0V17L1 16 M0 12L7 9 M16 1L9 3 M9 3V10L7 17 M9 8H18 M14 8V18" transform="translate(1568.5,132.5) scale(1.0)" fill="none" stroke="#00ff00" stroke-width="1.00" shape-rendering="crispEdges"/>
<path d="M8 0V7 M8 3H15 M3.5 7.5H15.5V12.5H3.5Z M3 15L1 18 M7 15L8 17 M11 15L12 17 M15 15L17 18" transform="translate(1590.5,132.5) scale(1.0)" fill="none" stroke="#00ff00" stroke-width="1.00" shape-rendering="crispEdges"/>
<line x1="1239" y1="187" x2="1373.2" y2="58.5" stroke="#ff0000" stroke-width="3" shape-rendering="auto"/>
<path d="M1379.0 53.0L1374.9 63.2L1368.7 56.7Z" fill="#ff0000" shape-rendering="auto"/>
<line x1="1379" y1="53" x2="1429.4" y2="152.9" stroke="#ff0000" stroke-width="3" shape-rendering="auto"/>
<path d="M1433.0 160.0L1424.5 153.1L1432.5 149.0Z" fill="#ff0000" shape-rendering="auto"/>
<line x1="1376" y1="587.5" x2="1430.6" y2="629.2" stroke="#ff0000" stroke-width="3" shape-rendering="auto"/>
<path d="M1437.0 634.0L1426.3 631.5L1431.8 624.4Z" fill="#ff0000" shape-rendering="auto"/>
<line x1="1354.5" y1="782" x2="1415.1" y2="838.1" stroke="#ff0000" stroke-width="3" shape-rendering="auto"/>
<path d="M1421.0 843.5L1410.6 840.0L1416.7 833.4Z" fill="#ff0000" shape-rendering="auto"/>
<rect x="1677.5" y="86.5" width="4" height="4" fill="#fff" stroke="#ff0000" stroke-width="1"/>
<rect x="1677.5" y="105.5" width="4" height="4" fill="#fff" stroke="#ff0000" stroke-width="1"/>
<rect x="1677.5" y="152.5" width="4" height="4" fill="#fff" stroke="#0000ff" stroke-width="1"/>
<rect x="1677.5" y="173.5" width="4" height="4" fill="#fff" stroke="#0000ff" stroke-width="1"/>
<g class="ax" shape-rendering="auto">
<rect x="1683" y="43" width="2" height="1" fill="#000"/>
<text x="1688.5" y="47">152.745</text>
<rect x="1683" y="76" width="2" height="1" fill="#000"/>
<text x="1688.5" y="80">151.485</text>
<rect x="1683" y="109" width="2" height="1" fill="#000"/>
<text x="1688.5" y="113">150.225</text>
<rect x="1683" y="142" width="2" height="1" fill="#000"/>
<text x="1688.5" y="146">148.965</text>
<rect x="1683" y="175" width="2" height="1" fill="#000"/>
<text x="1688.5" y="179">147.705</text>
<rect x="1683" y="208" width="2" height="1" fill="#000"/>
<text x="1688.5" y="212">146.445</text>
<rect x="1683" y="241" width="2" height="1" fill="#000"/>
<text x="1688.5" y="245">145.185</text>
<rect x="1683" y="274" width="2" height="1" fill="#000"/>
<text x="1688.5" y="278">143.925</text>
<rect x="1683" y="307" width="2" height="1" fill="#000"/>
<text x="1688.5" y="311">142.700</text>
<rect x="1683" y="340" width="2" height="1" fill="#000"/>
<text x="1688.5" y="344">141.440</text>
<rect x="1683" y="373" width="2" height="1" fill="#000"/>
<text x="1688.5" y="377">140.180</text>
<rect x="1683" y="406" width="2" height="1" fill="#000"/>
<text x="1688.5" y="410">138.920</text>
<rect x="1683" y="439" width="2" height="1" fill="#000"/>
<text x="1688.5" y="443">137.660</text>
<rect x="1683" y="472" width="2" height="1" fill="#000"/>
<text x="1688.5" y="476">136.400</text>
<rect x="1683" y="505" width="2" height="1" fill="#000"/>
<text x="1688.5" y="509">135.140</text>
<rect x="1683" y="538" width="2" height="1" fill="#000"/>
<text x="1688.5" y="542">133.915</text>
<rect x="1683" y="571" width="2" height="1" fill="#000"/>
<text x="1688.5" y="575">132.655</text>
<rect x="1683" y="578" width="1" height="1" fill="#000"/><text x="1687" y="587">1.8026</text>
<rect x="1683" y="670" width="2" height="1" fill="#000"/><text x="1687" y="674">0.00</text>
<rect x="1683" y="745" width="1" height="1" fill="#000"/><text x="1685.5" y="743">-1.4717</text>
<rect x="1683" y="750" width="1" height="1" fill="#000"/><text x="1686" y="759">100</text>
<rect x="1683" y="784" width="2" height="1" fill="#000"/><text x="1686" y="788">80</text>
<rect x="1683" y="835" width="2" height="1" fill="#000"/><text x="1686" y="839">50</text>
<rect x="1683" y="896" width="2" height="1" fill="#000"/><text x="1686" y="900">15</text>
<rect x="1683" y="921" width="1" height="1" fill="#000"/><text x="1686" y="919">0</text>
<text x="-6" y="935">26 Aug 2020</text>
<rect x="59" y="923" width="1" height="3" fill="#000"/>
<text x="58" y="935">4 Sep 2020</text>
<rect x="123" y="923" width="1" height="3" fill="#000"/>
<text x="122" y="935">14 Sep 2020</text>
<rect x="187" y="923" width="1" height="3" fill="#000"/>
<text x="186" y="935">23 Sep 2020</text>
<rect x="251" y="923" width="1" height="3" fill="#000"/>
<text x="250" y="935">2 Oct 2020</text>
<rect x="315" y="923" width="1" height="3" fill="#000"/>
<text x="314" y="935">12 Oct 2020</text>
<rect x="379" y="923" width="1" height="3" fill="#000"/>
<text x="378" y="935">21 Oct 2020</text>
<rect x="443" y="923" width="1" height="3" fill="#000"/>
<text x="442" y="935">30 Oct 2020</text>
<rect x="507" y="923" width="1" height="3" fill="#000"/>
<text x="506" y="935">9 Nov 2020</text>
<rect x="571" y="923" width="1" height="3" fill="#000"/>
<text x="570" y="935">18 Nov 2020</text>
<rect x="635" y="923" width="1" height="3" fill="#000"/>
<text x="634" y="935">27 Nov 2020</text>
<rect x="699" y="923" width="1" height="3" fill="#000"/>
<text x="698" y="935">7 Dec 2020</text>
<rect x="763" y="923" width="1" height="3" fill="#000"/>
<text x="762" y="935">16 Dec 2020</text>
<rect x="827" y="923" width="1" height="3" fill="#000"/>
<text x="826" y="935">27 Dec 2020</text>
<rect x="891" y="923" width="1" height="3" fill="#000"/>
<text x="890" y="935">6 Jan 2021</text>
<rect x="955" y="923" width="1" height="3" fill="#000"/>
<text x="954" y="935">15 Jan 2021</text>
<rect x="1019" y="923" width="1" height="3" fill="#000"/>
<text x="1018" y="935">25 Jan 2021</text>
<rect x="1083" y="923" width="1" height="3" fill="#000"/>
<text x="1082" y="935">3 Feb 2021</text>
<rect x="1147" y="923" width="1" height="3" fill="#000"/>
<text x="1146" y="935">12 Feb 2021</text>
<rect x="1211" y="923" width="1" height="3" fill="#000"/>
<text x="1210" y="935">22 Feb 2021</text>
<rect x="1275" y="923" width="1" height="3" fill="#000"/>
<text x="1274" y="935">3 Mar 2021</text>
<rect x="1339" y="923" width="1" height="3" fill="#000"/>
<text x="1338" y="935">12 Mar 2021</text>
<rect x="1403" y="923" width="1" height="3" fill="#000"/>
<text x="1402" y="935">22 Mar 2021</text>
<text x="10" y="33" letter-spacing="0">GBPJPY-,Daily&#160; 150.739 150.763 149.063 149.283</text>
<text x="0" y="589" letter-spacing="0">MACD(12,26,9) 0.8614 1.3501</text>
<text x="0" y="761" letter-spacing="0">RSI(14) 45.6271</text>
</g>
<path d="M-0.5 32.5H5.5L2.5 27Z" fill="#000" shape-rendering="auto"/>
<rect x="1684" y="82" width="41" height="11" fill="#ff0000"/>
<text class="ax" x="1688.5" y="91" style="fill:#fff;stroke:#fff" shape-rendering="auto">151.004</text>
<rect x="1684" y="101" width="41" height="11" fill="#ff0000"/>
<text class="ax" x="1688.5" y="110" style="fill:#fff;stroke:#fff" shape-rendering="auto">150.282</text>
<rect x="1684" y="117" width="41" height="11" fill="#00ced1"/>
<text class="ax" x="1688.5" y="126" style="fill:#fff;stroke:#fff" shape-rendering="auto">149.675</text>
<rect x="1684" y="129" width="41" height="11" fill="#000000"/>
<text class="ax" x="1688.5" y="138" style="fill:#fff;stroke:#fff" shape-rendering="auto">149.283</text>
<rect x="1684" y="148" width="41" height="11" fill="#0000ff"/>
<text class="ax" x="1688.5" y="157" style="fill:#fff;stroke:#fff" shape-rendering="auto">148.498</text>
<rect x="1684" y="169" width="41" height="11" fill="#0000ff"/>
<text class="ax" x="1688.5" y="178" style="fill:#fff;stroke:#fff" shape-rendering="auto">147.700</text>
<g id="toolbar"><rect x="318" y="0" width="24" height="15" fill="#f7f7f7"/><rect x="470" y="0" width="24" height="15" fill="#f7f7f7"/><rect x="498" y="0" width="25" height="15" fill="#f7f7f7"/><rect x="658" y="0" width="24" height="15" fill="#f7f7f7"/><rect x="1132" y="0" width="24" height="15" fill="#f7f7f7"/><rect x="43" y="0" width="1" height="15" fill="#a0a0a0"/><rect x="317" y="0" width="1" height="15" fill="#a0a0a0"/><rect x="374" y="0" width="1" height="15" fill="#a0a0a0"/><rect x="464" y="0" width="1" height="15" fill="#a0a0a0"/><rect x="469" y="0" width="1" height="15" fill="#a0a0a0"/><rect x="497" y="0" width="1" height="15" fill="#a0a0a0"/><rect x="526" y="0" width="1" height="15" fill="#a0a0a0"/><rect x="657" y="0" width="1" height="15" fill="#a0a0a0"/><rect x="714" y="0" width="1" height="15" fill="#a0a0a0"/><rect x="279" y="0" width="1" height="17" fill="#8c8c8c"/><rect x="280" y="0" width="1" height="17" fill="#ffffff"/><rect x="647" y="0" width="1" height="17" fill="#8c8c8c"/><rect x="648" y="0" width="1" height="17" fill="#ffffff"/><rect x="953" y="0" width="1" height="17" fill="#8c8c8c"/><rect x="954" y="0" width="1" height="17" fill="#ffffff"/><rect x="1131" y="0" width="1" height="17" fill="#8c8c8c"/><rect x="1132" y="0" width="1" height="17" fill="#ffffff"/><rect x="1214" y="0" width="1" height="17" fill="#8c8c8c"/><rect x="1215" y="0" width="1" height="17" fill="#ffffff"/><rect x="283" y="1" width="3" height="1" fill="#a8a8a8"/><rect x="283" y="3" width="3" height="1" fill="#a8a8a8"/><rect x="283" y="5" width="3" height="1" fill="#a8a8a8"/><rect x="283" y="7" width="3" height="1" fill="#a8a8a8"/><rect x="283" y="9" width="3" height="1" fill="#a8a8a8"/><rect x="283" y="11" width="3" height="1" fill="#a8a8a8"/><rect x="283" y="13" width="3" height="1" fill="#a8a8a8"/><rect x="651" y="1" width="3" height="1" fill="#a8a8a8"/><rect x="651" y="3" width="3" height="1" fill="#a8a8a8"/><rect x="651" y="5" width="3" height="1" fill="#a8a8a8"/><rect x="651" y="7" width="3" height="1" fill="#a8a8a8"/><rect x="651" y="9" width="3" height="1" fill="#a8a8a8"/><rect x="651" y="11" width="3" height="1" fill="#a8a8a8"/><rect x="651" y="13" width="3" height="1" fill="#a8a8a8"/><rect x="957" y="1" width="3" height="1" fill="#a8a8a8"/><rect x="957" y="3" width="3" height="1" fill="#a8a8a8"/><rect x="957" y="5" width="3" height="1" fill="#a8a8a8"/><rect x="957" y="7" width="3" height="1" fill="#a8a8a8"/><rect x="957" y="9" width="3" height="1" fill="#a8a8a8"/><rect x="957" y="11" width="3" height="1" fill="#a8a8a8"/><rect x="957" y="13" width="3" height="1" fill="#a8a8a8"/><rect x="-2.5" y="-3.5" width="8" height="15" fill="#fff" stroke="#3a78c8"/><path d="M-1 1H4M-1 3H4M-1 5H4M-1 7H4" stroke="#7aa6e0"/><rect x="18.5" y="-2.5" width="11" height="13" fill="#fff" stroke="#a09888"/><circle cx="26" cy="5" r="5" fill="#d8ecfa" stroke="#6a9ad8" shape-rendering="auto"/><path d="M30 10L35 14.5" stroke="#c8a020" stroke-width="2.4" shape-rendering="auto"/><rect x="53.5" y="-3.5" width="11" height="14" fill="#fff" stroke="#808080"/><path d="M55 1H62M55 4H62" stroke="#707070"/><path d="M61 3h4v4h4v4h-4v4h-4v-4h-4v-4h4z" fill="#22cc22" stroke="#10a010" shape-rendering="auto"/><path d="M120 6L126 -1L136 5L130 12Z" fill="#e8b820" stroke="#b07810" shape-rendering="auto"/><path d="M121 8L130 13L136 7" fill="none" stroke="#c89028" shape-rendering="auto"/><rect x="150" y="-2" width="9" height="8" fill="#1e8ae8"/><rect x="152" y="1" width="5" height="2" fill="#cfe6ff"/><path d="M149 12.5h14a3 3 0 0 0 0-6a4 4 0 0 0-7-2a3.5 3.5 0 0 0-6 2a3 3 0 0 0-1 6z" fill="#eef2f8" stroke="#7088b0" shape-rendering="auto"/><g fill="none" shape-rendering="auto"><circle cx="184" cy="5" r="7.5" stroke="#8fb0e0" stroke-width="1"/><circle cx="184" cy="5" r="5" stroke="#4a7ad8" stroke-width="1.2"/><circle cx="184" cy="5" r="2.5" stroke="#3a6ad0"/></g><path d="M184 5V12.5" stroke="#2aa82a" stroke-width="1.3"/><path d="M186 12A7 7 0 0 0 191 6" fill="none" stroke="#5ab85a" stroke-width="1.5" shape-rendering="auto"/><ellipse cx="211" cy="1" rx="7" ry="3.5" fill="#5ab0e8" stroke="#3a88c8" shape-rendering="auto"/><path d="M204 5L212 12L218 5Z" fill="#f4d860" stroke="#c8a838" shape-rendering="auto"/><circle cx="215.5" cy="8.5" r="4.6" fill="#d02010" shape-rendering="auto"/><rect x="214" y="7" width="3" height="3" fill="#fff"/><rect x="297" y="-1" width="1" height="13" fill="#555"/><rect x="295" y="10" width="14" height="1" fill="#555"/><path d="M309 8.5L311 10.5L309 12.5Z" fill="#555"/><path d="M303.5 -1V7.5M301 7.5H303.5M303.5 1.5H306" stroke="#1a9a1a"/><rect x="325" y="-1" width="1" height="13" fill="#555"/><rect x="323" y="10" width="14" height="1" fill="#555"/><path d="M337 8.5L339 10.5L337 12.5Z" fill="#555"/><rect x="329" y="-1" width="5" height="7" fill="#3add3a" stroke="#1a9a1a" stroke-width="0.8"/><rect x="331" y="6" width="1" height="2" fill="#1a9a1a"/><rect x="353" y="-1" width="1" height="13" fill="#555"/><rect x="351" y="10" width="14" height="1" fill="#555"/><path d="M365 8.5L367 10.5L365 12.5Z" fill="#555"/><path d="M352 8C355 4 357 1 359 2S362 5 364 6" fill="none" stroke="#2a9a2a" shape-rendering="auto"/><circle cx="389" cy="3" r="5" fill="#dcefff" stroke="#3a7ad0" stroke-width="1.2" shape-rendering="auto"/><path d="M392.5 6.5L397 11.5" stroke="#d8b020" stroke-width="2.6" shape-rendering="auto"/><rect x="386" y="2" width="6" height="2" fill="#3a7ad0"/><rect x="388" y="0" width="2" height="6" fill="#3a7ad0"/><circle cx="417" cy="3" r="5" fill="#dcefff" stroke="#3a7ad0" stroke-width="1.2" shape-rendering="auto"/><path d="M420.5 6.5L425 11.5" stroke="#d8b020" stroke-width="2.6" shape-rendering="auto"/><rect x="414" y="2" width="6" height="2" fill="#3a7ad0"/><rect x="439.5" y="-1.5" width="7" height="5" fill="#fff" stroke="#2aa02a"/><rect x="447.5" y="-1.5" width="7" height="5" fill="#fff" stroke="#2a5ed8"/><rect x="439.5" y="5.5" width="7" height="7" fill="#fff" stroke="#2a5ed8"/><rect x="447.5" y="5.5" width="7" height="7" fill="#fff" stroke="#2aa02a"/><rect x="440" y="6" width="6" height="2" fill="#2a5ed8"/><rect x="448" y="6" width="6" height="2" fill="#2aa02a"/><rect x="478" y="-1" width="1" height="13" fill="#555"/><rect x="476" y="10" width="14" height="1" fill="#555"/><path d="M490 8.5L492 10.5L490 12.5Z" fill="#555"/><path d="M482 1L482 7L486 4Z" fill="#1aa01a"/><rect x="504" y="-1" width="1" height="13" fill="#555"/><rect x="502" y="10" width="14" height="1" fill="#555"/><path d="M516 8.5L518 10.5L516 12.5Z" fill="#555"/><rect x="511" y="-1" width="1" height="9" fill="#2a6aa8"/><path d="M513 4H517M513 4L515 2M513 4L515 6" stroke="#e04010"/><rect x="536.5" y="-3.5" width="11" height="14" fill="#fff" stroke="#808080"/><path d="M544 3h4v4h4v4h-4v4h-4v-4h-4v-4h4z" fill="#22cc22" stroke="#10a010" shape-rendering="auto"/><path d="M558 4H564L561 7Z" fill="#000"/><path d="M597 4H603L600 7Z" fill="#000"/><path d="M636 4H642L639 7Z" fill="#000"/><path d="M942 4H948L945 7Z" fill="#000"/><circle cx="582" cy="4" r="7" fill="#fff" stroke="#1a6ad0" stroke-width="2" shape-rendering="auto"/><path d="M582 0V4H585" stroke="#333" fill="none"/><rect x="613.5" y="-1.5" width="15" height="13" fill="#fff" stroke="#3a78c8"/><rect x="614" y="5" width="14" height="1" fill="#3a78c8"/><path d="M615 3L617 3L619 1.5L621 2.5L623 1.5L626 2" fill="none" stroke="#b02010" shape-rendering="auto"/><path d="M615 9L617 8.5L619 9L621 7.5L623 6.5L626 9" fill="none" stroke="#20a020" shape-rendering="auto"/><path d="M665 -2L665 9L667.5 7L670 12L672 11L669.5 6L673 6Z" fill="#4a4a4a" shape-rendering="auto"/><rect x="697" y="-1" width="1" height="14" fill="#444"/><rect x="690" y="5" width="15" height="1" fill="#444"/><rect x="697" y="5" width="1" height="1" fill="#f0f0f0"/><rect x="731" y="-1" width="1" height="13" fill="#444"/><rect x="754" y="5" width="12" height="1" fill="#444"/><path d="M782 12L794 0" stroke="#444" shape-rendering="auto"/><path d="M808 6L816 -2M810 10L820 0M813 12L822 3" stroke="#444" shape-rendering="auto"/><text x="818" y="14" font-size="7" font-weight="bold" fill="#444" shape-rendering="auto">E</text><path d="M837 1.5H850M837 5.5H850M837 9.5H846" stroke="#444" stroke-dasharray="1 1"/><text x="846" y="14" font-size="7" font-weight="bold" fill="#444" shape-rendering="auto">F</text><text x="867.5" y="10" font-size="12" font-weight="bold" fill="#555" shape-rendering="auto">A</text><rect x="894.5" y="1.5" width="12" height="10" fill="none" stroke="#555" stroke-dasharray="1 1"/><text x="897" y="10" font-size="11" font-weight="bold" fill="#555" shape-rendering="auto">T</text><path d="M922 1L925 -2L928 1Z M928 9L931 12L934 9Z" fill="#444"/><path d="M923 4L925 6L929 2" fill="none" stroke="#444" stroke-width="1.4" shape-rendering="auto"/><text x="969" y="9" font-size="10" fill="#333" letter-spacing="-0.5" shape-rendering="auto">M1</text><text x="997" y="9" font-size="10" fill="#333" letter-spacing="-0.5" shape-rendering="auto">M5</text><text x="1022.6" y="9" font-size="10" fill="#333" letter-spacing="-0.5" shape-rendering="auto">M15</text><text x="1050.5" y="9" font-size="10" fill="#333" letter-spacing="-0.5" shape-rendering="auto">M30</text><text x="1081.5" y="9" font-size="10" fill="#333" letter-spacing="-0.5" shape-rendering="auto">H1</text><text x="1108.5" y="9" font-size="10" fill="#333" letter-spacing="-0.5" shape-rendering="auto">H4</text><text x="1137.8" y="9" font-size="10" fill="#333" letter-spacing="-0.5" shape-rendering="auto">D1</text><text x="1164.8" y="9" font-size="10" fill="#333" letter-spacing="-0.5" shape-rendering="auto">W1</text><text x="1191.5" y="9" font-size="10" fill="#333" letter-spacing="-0.5" shape-rendering="auto">MN</text><circle cx="1684.5" cy="2.5" r="3.8" fill="#fff" stroke="#2a68d8" stroke-width="1.3" shape-rendering="auto"/><path d="M1681.5 5.5L1677.5 10" stroke="#2a5ad0" stroke-width="2.2" shape-rendering="auto"/><circle cx="1706" cy="7.5" r="5" fill="#e4e6ee" stroke="#a0a0a0" shape-rendering="auto"/><path d="M1704 11L1704 14L1707 12Z" fill="#909090"/><circle cx="1715.5" cy="3" r="8" fill="#dc2a10" shape-rendering="auto"/><path d="M1715.5 -2V6M1713.5 6.5H1717.5" stroke="#fff" stroke-width="1.2"/></g><path d="M2 0L3 2 M0 2.5H6 M1 4L2 5.5 M5 4L4 5.5 M0 6H6 M3 6V12 M0 9H6 M3 8L0 11 M3 8L5 10 M11 0L7 2V12 M7 5H12 M10 5V12" transform="translate(72.0,-3)" fill="none" stroke="#000" stroke-width="1.05" shape-rendering="auto"/><path d="M1 0L2.5 1.5 M0 4H2.5V10.5L4 9 M5 1.5H12 M9 1.5V11.5L7.5 10.5" transform="translate(84.5,-3)" fill="none" stroke="#000" stroke-width="1.05" shape-rendering="auto"/><path d="M3 0L4 1.5 M9 0L8 1.5 M2 2.5H10V7.5H2Z M2 5H10 M6 2.5V12 M0 9.5H12" transform="translate(97.0,-3)" fill="none" stroke="#000" stroke-width="1.05" shape-rendering="auto"/><path d="M6 0L5 1.5 M2 1.5H10V11.5H2Z M2 4.5H10 M2 7.5H10" transform="translate(225.5,-3)" fill="none" stroke="#000" stroke-width="1.05" shape-rendering="auto"/><path d="M0 2H5 M0 5H6 M3 5L1 9.5L5 8.5 M4 7.5L5.5 10 M8 0V4L7 11 M7 4H12V11L10.5 10.5" transform="translate(237.5,-3)" fill="none" stroke="#000" stroke-width="1.05" shape-rendering="auto"/><path d="M6 0V1.5 M0 2H12 M4 3L2 5.5 M8 3L10 5.5 M3 6.5L11 12 M9 6.5L1 12" transform="translate(249.5,-3)" fill="none" stroke="#000" stroke-width="1.05" shape-rendering="auto"/><path d="M3 0.5H9V6H3Z M3 3.2H9 M3 6L1 8.5 M2 8H11L10 12 M5 8L2 12 M7.5 8L5 12" transform="translate(261.5,-3)" fill="none" stroke="#000" stroke-width="1.05" shape-rendering="auto"/>
<rect x="0" y="41" width="219" height="64" fill="#fff"/>
<defs>
<linearGradient id="gtab" x1="0" y1="0" x2="0" y2="1"><stop offset="0" stop-color="#f65555"/><stop offset="1" stop-color="#e02a2a"/></linearGradient>
<linearGradient id="gpr" x1="0" y1="0" x2="0" y2="1"><stop offset="0" stop-color="#e53535"/><stop offset="0.5" stop-color="#cc1a1a"/><stop offset="1" stop-color="#b00606"/></linearGradient>
<linearGradient id="gbtn" x1="0" y1="0" x2="0" y2="1"><stop offset="0" stop-color="#f2f2f2"/><stop offset="0.45" stop-color="#e8e8e8"/><stop offset="0.5" stop-color="#d8d8d8"/><stop offset="1" stop-color="#d4d4d4"/></linearGradient>
</defs>
<rect x="0" y="41" width="50" height="24" fill="url(#gtab)"/>
<rect x="0" y="41" width="50" height="1" fill="#a80000"/><rect x="49" y="41" width="1" height="24" fill="#a80000"/>
<rect x="2" y="64" width="44" height="1" fill="#7a0000"/>
<rect x="0" y="65" width="107" height="40" fill="url(#gpr)"/>
<rect x="106" y="65" width="1" height="40" fill="#980000"/><rect x="49" y="65" width="58" height="1" fill="#a80000"/>
<rect x="165" y="41" width="52" height="24" fill="url(#gtab)"/>
<rect x="165" y="41" width="52" height="1" fill="#a80000"/><rect x="165" y="41" width="1" height="24" fill="#a80000"/>
<rect x="169" y="64" width="44" height="1" fill="#7a0000"/>
<rect x="109" y="65" width="108" height="40" fill="url(#gpr)"/>
<rect x="109" y="65" width="57" height="1" fill="#a80000"/>
<rect x="216" y="41" width="1" height="64" fill="#980000"/>
<rect x="52.5" y="41.5" width="110" height="21" fill="#fff" stroke="#a9acb2"/>
<rect x="53" y="42" width="20" height="20" fill="url(#gbtn)"/><rect x="73" y="42" width="1" height="20" fill="#a9acb2"/>
<rect x="142" y="42" width="20" height="20" fill="url(#gbtn)"/><rect x="141" y="42" width="1" height="20" fill="#a9acb2"/>
<path d="M60.5 50.5h5l-2.5 3z" fill="#4a5ec8" shape-rendering="auto"/>
<path d="M149.5 53.5h5l-2.5 -3z" fill="#4a5ec8" shape-rendering="auto"/>
<g shape-rendering="auto" fill="#fff">
<text x="10.5" y="57" font-size="12" letter-spacing="-0.9">SELL</text>
<text x="178.5" y="57" font-size="12" letter-spacing="-0.6">BUY</text>
<text x="21.5" y="96" font-size="12" font-weight="bold" letter-spacing="-0.2">149</text>
<text x="45.5" y="96" font-size="33" letter-spacing="-1.3">28</text>
<text x="85.5" y="80" font-size="12" font-weight="bold">3</text>
<text x="131.5" y="96" font-size="12" font-weight="bold" letter-spacing="-0.2">149</text>
<text x="155.5" y="96" font-size="33" letter-spacing="-1.3">43</text>
<text x="196" y="80" font-size="12" font-weight="bold">2</text>
</g>
<text x="115" y="56" font-size="12.5" fill="#000" shape-rendering="auto" letter-spacing="-0.4">1.00</text>
<path d="M1423 22H1432.5L1427.75 27Z" fill="#c0c0c0" shape-rendering="auto"/>
</svg>
</body></html>
